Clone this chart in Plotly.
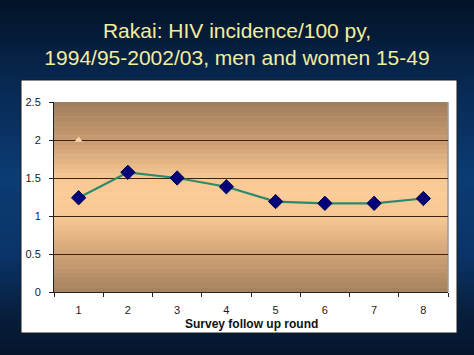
import plotly.graph_objects as go

# ---- data ----
rounds = ["1", "2", "3", "4", "5", "6", "7", "8"]
incidence = [1.24, 1.575, 1.50, 1.385, 1.19, 1.167, 1.167, 1.23]
extra_round = ["1"]
extra_value = [2.0]
y_ticks = [0, 0.5, 1, 1.5, 2, 2.5]
y_ticklabels = ["0", "0.5", "1", "1.5", "2", "2.5"]
grid_vals = [0.5, 1, 1.5, 2]
title_text = "Rakai: HIV incidence/100 py,<br>1994/95-2002/03, men and women 15-49"
x_title = "Survey follow up round"

W, H = 474, 355
L, R, T, B = 54, 26, 102, 63
pw, ph = W - L - R, H - T - B


def px2paper_x(px):
    return (px - L) / pw


def px2paper_y(py):
    return (H - B - py) / ph


def hex2rgb(h):
    h = h.lstrip("#")
    return tuple(int(h[i:i + 2], 16) for i in (0, 2, 4))


def interp(stops, t):
    for (t0, c0), (t1, c1) in zip(stops, stops[1:]):
        if t0 <= t <= t1:
            f = 0 if t1 == t0 else (t - t0) / (t1 - t0)
            a, b = hex2rgb(c0), hex2rgb(c1)
            return "rgb(%d,%d,%d)" % tuple(round(a[i] + (b[i] - a[i]) * f) for i in range(3))
    return stops[-1][1]


shapes = []

# outer navy background gradient (top -> bottom)
bg_stops = [(0, "#041326"), (0.25, "#082a55"), (0.5, "#0b3c74"), (0.72, "#0a3468"), (0.9, "#071d3a"), (1.0, "#05152b")]
N = 60
for i in range(N):
    y0p = H * i / N
    y1p = H * (i + 1) / N
    shapes.append(dict(type="rect", xref="paper", yref="paper", layer="below",
                       x0=px2paper_x(0), x1=px2paper_x(W),
                       y0=px2paper_y(y1p + 0.5), y1=px2paper_y(y0p),
                       fillcolor=interp(bg_stops, (i + 0.5) / N), line=dict(width=0)))

# white chart box
shapes.append(dict(type="rect", xref="paper", yref="paper", layer="below",
                   x0=px2paper_x(21), x1=px2paper_x(457),
                   y0=px2paper_y(333), y1=px2paper_y(80),
                   fillcolor="white", line=dict(color="#1a1a1a", width=1)))

# plot-area brown/peach gradient
pl_stops = [(0, "#a07d5b"), (0.2, "#c89b71"), (0.4, "#f7c893"), (0.5, "#fccc98"),
            (0.62, "#f6c691"), (0.82, "#cc9f74"), (1.0, "#a4815d")]
M = 40
for i in range(M):
    y0p = T + ph * i / M
    y1p = T + ph * (i + 1) / M
    shapes.append(dict(type="rect", xref="paper", yref="paper", layer="below",
                       x0=0, x1=1,
                       y0=px2paper_y(y1p + 0.5), y1=px2paper_y(y0p),
                       fillcolor=interp(pl_stops, (i + 0.5) / M), line=dict(width=0)))
# right edge shadow of plot area
shapes.append(dict(type="line", xref="paper", yref="paper", layer="below",
                   x0=1, x1=1, y0=0, y1=1, line=dict(color="#9a9a9a", width=1.5)))

fig = go.Figure()
fig.add_trace(go.Scatter(
    x=rounds, y=incidence, mode="lines+markers",
    line=dict(color="#2a8a6c", width=2.2),
    marker=dict(symbol="diamond", size=11, color="#02027a", line=dict(color="#000050", width=1)),
    showlegend=False, hoverinfo="skip"))
fig.add_trace(go.Scatter(
    x=extra_round, y=extra_value, mode="markers", yaxis="y2",
    marker=dict(symbol="triangle-up", size=7, color="#f9d6aa"),
    showlegend=False, hoverinfo="skip"))

fig.update_layout(
    width=W, height=H,
    margin=dict(l=L, r=R, t=T, b=B),
    paper_bgcolor="#0a2a55",
    plot_bgcolor="rgba(0,0,0,0)",
    shapes=shapes,
    font=dict(family="Liberation Sans, Arial, sans-serif", color="#1a1a1a", size=11),
    title=dict(text=title_text, x=0.5, xref="container", xanchor="center",
               y=1 - 38 / H, yref="container", yanchor="middle",
               font=dict(family="Liberation Sans, Arial, sans-serif", size=21, color="#f2ee9e")),
    xaxis=dict(type="category", categoryorder="array", categoryarray=rounds,
               tickson="boundaries", ticks="outside", ticklen=4, tickcolor="#222",
               showline=True, linecolor="#222", linewidth=1, showgrid=False,
               zeroline=False, tickfont=dict(size=11, color="#1a1a1a"),
               ticklabelstandoff=8,
               range=[-0.5, 7.5], fixedrange=True),
    yaxis=dict(range=[0, 2.5], tickvals=y_ticks, ticktext=y_ticklabels,
               ticks="outside", ticklen=4, tickcolor="#222",
               showline=True, linecolor="#222", linewidth=1, showgrid=False,
               zeroline=False, tickfont=dict(size=11, color="#1a1a1a"),
               ticklabelstandoff=6),
    yaxis2=dict(range=[0, 2.5], overlaying="y", tickvals=grid_vals,
                showticklabels=False, ticks="", showgrid=True,
                gridcolor="#3b2512", gridwidth=1.3, zeroline=False, showline=False),
    annotations=[dict(text="<b>" + x_title + "</b>", xref="paper", yref="paper",
                      x=0.5, y=px2paper_y(324), xanchor="center", yanchor="middle",
                      showarrow=False, font=dict(size=12, color="#111"))],
)

fig.write_html("out.html", config={"displayModeBar": False},
               post_script="document.body.style.margin='0';document.body.style.background='#05152b';")
